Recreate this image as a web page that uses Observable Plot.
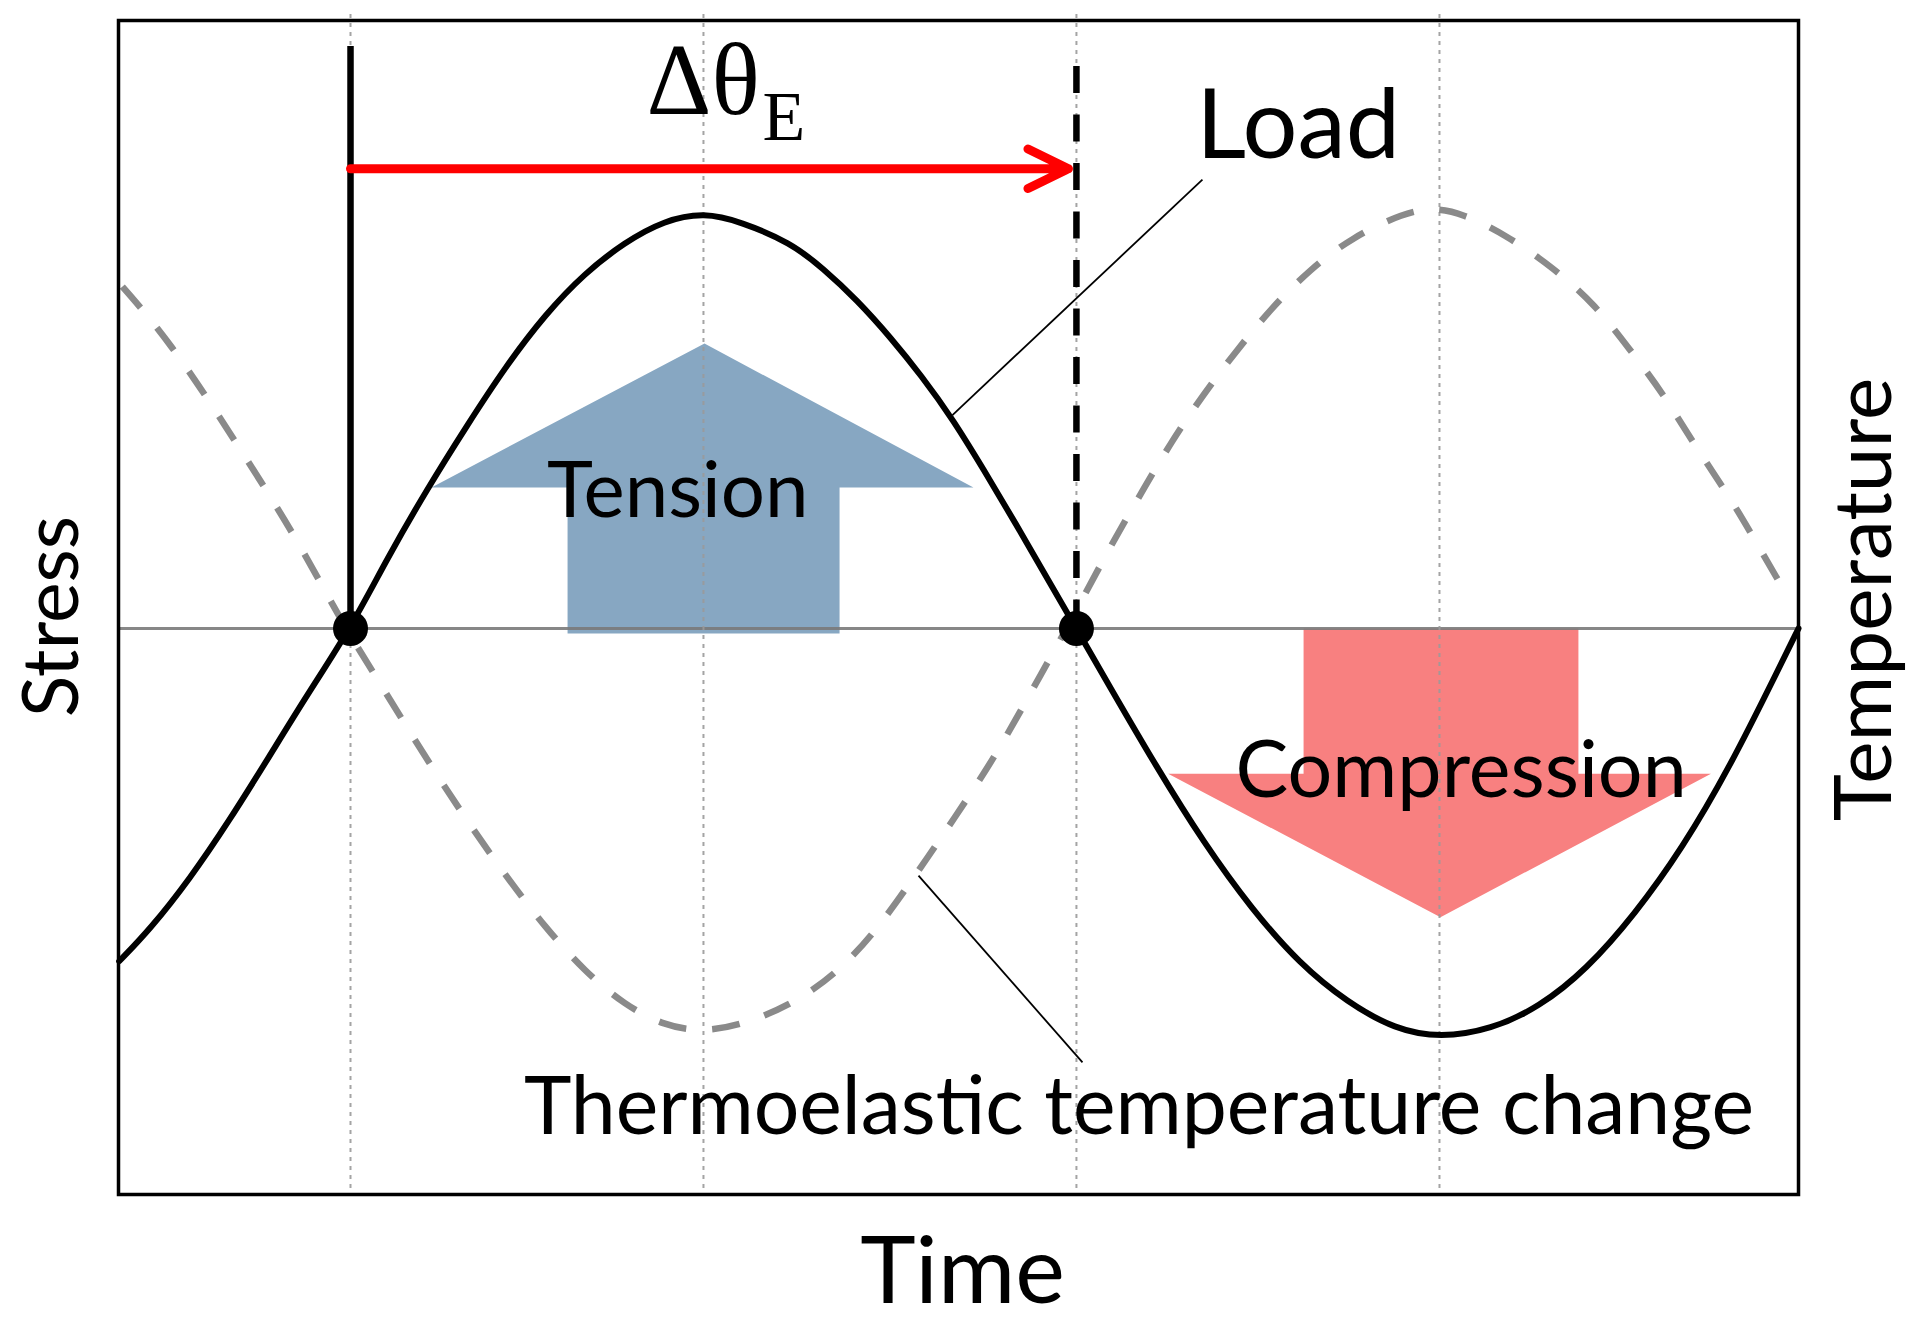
<!DOCTYPE html>
<html>
<head>
<meta charset="utf-8">
<script src="https://cdn.jsdelivr.net/npm/d3@7"></script>
<script src="https://cdn.jsdelivr.net/npm/@observablehq/plot@0.6"></script>
<style>
  html, body { margin: 0; padding: 0; background: #ffffff; }
  #chart svg { display: block; }
</style>
</head>
<body>
<div id="chart"></div>
<script>
// ---- Data (time: 0–100 across the frame; level: % of load amplitude) ----
const loadTime   = [0.04, 1.88, 4.23, 6.58, 8.94, 11.3, 13.81, 16.0, 18.35, 20.71, 23.06, 25.42, 27.77, 30.12, 32.48, 34.88, 37.02, 40.0, 41.96, 43.95, 45.95, 47.8, 49.62, 51.9, 53.87, 55.88, 57.02, 58.92, 61.77, 64.61, 67.46, 70.3, 73.15, 76.0, 78.69, 81.7, 84.54, 87.38, 90.24, 93.08, 95.93, 98.78, 100];
const loadStress = [-80.0, -72.3, -60.3, -46.3, -31.0, -15.5, 0, 16.9, 33.4, 48.6, 63.1, 75.6, 85.5, 92.8, 98.1, 100, 97.8, 92.8, 86.5, 79.0, 70.0, 60.7, 50.6, 35.5, 22.0, 7.8, 0, -13.4, -33.2, -51.6, -67.5, -80.6, -89.9, -96.4, -98.4, -96.4, -91.1, -82.0, -68.8, -52.9, -33.2, -10.0, 0];

const tempTime  = [0.23, 3.05, 6.58, 10.12, 12.23, 13.53, 16.0, 18.35, 20.71, 23.06, 25.42, 27.77, 30.12, 32.48, 34.82, 37.52, 40.49, 43.08, 45.26, 47.34, 49.23, 51.31, 52.7, 54.39, 56.43, 57.2, 59.2, 60.91, 62.62, 64.61, 66.61, 68.6, 70.88, 73.44, 76.57, 78.27, 79.99, 82.55, 85.39, 87.96, 89.95, 91.95, 93.93, 95.93, 97.64, 99.35];
const tempValue = [82.2, 69.0, 47.4, 24.9, 9.5, 0, -16.0, -31.5, -46.0, -59.5, -72.0, -82.5, -90.5, -95.5, -97.1, -94.8, -89.5, -81.7, -71.8, -59.9, -48.7, -36.2, -27.0, -14.8, 0, 5.8, 20.9, 32.8, 44.6, 56.5, 67.1, 76.9, 86.2, 94.1, 100, 101.1, 99.8, 94.7, 86.8, 77.6, 67.1, 56.5, 43.3, 31.5, 19.6, 7.7];

const zeroCrossTimes = [13.81, 57.02];               // black dots
const guideTimes     = [13.81, 34.82, 57.02, 78.63]; // dotted vertical guides
const guideTop = 147.6, frameBottom = -136.06, frameTop = 146.15;

const phaseStart = 13.81, phaseEnd = 57.02;   // ΔθE interval
const phaseMarkerTops = [139.9, 135.1];       // solid / dashed vertical markers
const deltaArrowLevel = 110.5;

const tensionTime  = [34.88, 50.89, 42.92, 42.92, 26.73, 26.73, 18.63];
const tensionLevel = [68.5, 33.9, 33.9, -1.2, -1.2, 33.9, 33.9];
const compTime  = [70.54, 86.9, 86.9, 94.79, 78.69, 62.48, 70.54];
const compLevel = [0, 0, -34.9, -34.9, -69.4, -34.9, -34.9];

const leaderFromTime = [64.52, 47.62], leaderFromLevel = [107.9, -59.4];
const leaderToTime   = [49.64, 57.38], leaderToLevel   = [51.3, -104.3];

const labelText  = ["Load", "Tension", "Compression", "Thermoelastic temperature change"];
const labelTime  = [64.15, 33.29, 79.92, 60.74];
const labelLevel = [113.0, 26.7, -40.4, -121.5];

const deltaText = ["Δθ", "E"];
const deltaTime = [31.43, 38.33];
const deltaLevel = [123.7, 117.5];

const axisTitles = ["Time", "Stress", "Temperature"];

// ---- Build tables ----
const loadData = loadTime.map((t, i) => ({t, v: loadStress[i]}));
const tempData = tempTime.map((t, i) => ({t, v: tempValue[i]}));
const tension = tensionTime.map((t, i) => ({t, v: tensionLevel[i]}));
const compression = compTime.map((t, i) => ({t, v: compLevel[i]}));
const leaders = leaderFromTime.map((t, i) => ({x1: t, y1: leaderFromLevel[i], x2: leaderToTime[i], y2: leaderToLevel[i]}));
const labels = labelText.map((s, i) => ({s, t: labelTime[i], v: labelLevel[i]}));
const markers = [
  {t: phaseStart, top: phaseMarkerTops[0]},
  {t: phaseEnd, top: phaseMarkerTops[1]}
];

const FONT = "Lato, 'Open Sans', sans-serif";
const SERIF = "'Liberation Serif', 'Times New Roman', serif";

const chart = Plot.plot({
  width: 1920,
  height: 1323,
  marginLeft: 118,
  marginRight: 122,
  marginTop: 20,
  marginBottom: 129,
  x: {domain: [0, 100], axis: null},
  y: {domain: [frameBottom, frameTop], axis: null},
  style: {background: "#ffffff", overflow: "visible"},
  marks: [
    // block arrows
    Plot.line(tension, {x: "t", y: "v", curve: "linear-closed", fill: "#87a7c2", stroke: "none"}),
    Plot.line(compression, {x: "t", y: "v", curve: "linear-closed", fill: "#f88080", stroke: "none"}),
    // zero line
    Plot.ruleY([0], {stroke: "#7a7a7a", strokeWidth: 3, strokeOpacity: 0.9}),
    // dotted guides
    Plot.ruleX(guideTimes, {y1: guideTop, y2: frameBottom, stroke: "#9a9a9a", strokeWidth: 2, strokeDasharray: "4,5", strokeOpacity: 0.9}),
    // thermoelastic temperature change (dashed gray)
    Plot.line(tempData, {x: "t", y: "v", curve: "basis", stroke: "#8a8a8a", strokeWidth: 6.5, strokeDasharray: "28,26", strokeLinecap: "butt"}),
    // load curve
    Plot.line(loadData, {x: "t", y: "v", curve: "basis", stroke: "#000", strokeWidth: 6}),
    // phase markers
    Plot.ruleX([markers[0]], {x: "t", y1: "top", y2: 0, stroke: "#000", strokeWidth: 6.5}),
    Plot.ruleX([markers[1]], {x: "t", y1: "top", y2: 0, stroke: "#000", strokeWidth: 6.5, strokeDasharray: "27,21.5"}),
    // ΔθE arrow
    Plot.arrow([{x1: phaseStart, x2: phaseEnd, y: deltaArrowLevel}], {
      x1: "x1", x2: "x2", y1: "y", y2: "y",
      stroke: "#ff0000", strokeWidth: 9, headLength: 7.5, headAngle: 52, insetEnd: 8,
      strokeLinecap: "round", strokeLinejoin: "round"
    }),
    // zero crossing dots
    Plot.dot(zeroCrossTimes, {x: d => d, y: 0, r: 17.5, fill: "#000", stroke: "none"}),
    // leader lines
    Plot.link(leaders, {x1: "x1", y1: "y1", x2: "x2", y2: "y2", stroke: "#000", strokeWidth: 1.8}),
    // labels
    Plot.text([labels[0]], {x: "t", y: "v", text: "s", textAnchor: "start", lineAnchor: "bottom", fontSize: 97, fontFamily: FONT, fill: "#000"}),
    Plot.text([labels[1]], {x: "t", y: "v", text: "s", textAnchor: "middle", lineAnchor: "bottom", fontSize: 78, fontFamily: FONT, fill: "#000"}),
    Plot.text([labels[2]], {x: "t", y: "v", text: "s", textAnchor: "middle", lineAnchor: "bottom", fontSize: 79, fontFamily: FONT, fill: "#000"}),
    Plot.text([labels[3]], {x: "t", y: "v", text: "s", textAnchor: "middle", lineAnchor: "bottom", fontSize: 80.5, fontFamily: FONT, fill: "#000"}),
    // ΔθE
    Plot.text([0], {x: () => deltaTime[0], y: () => deltaLevel[0], text: () => deltaText[0], textAnchor: "start", lineAnchor: "bottom", fontSize: 101, fontFamily: SERIF, fill: "#000"}),
    Plot.text([0], {x: () => deltaTime[1], y: () => deltaLevel[1], text: () => deltaText[1], textAnchor: "start", lineAnchor: "bottom", fontSize: 70, fontFamily: SERIF, fill: "#000"}),
    // frame
    Plot.frame({stroke: "#000", strokeWidth: 3.5}),
    // axis titles
    Plot.text([axisTitles[0]], {frameAnchor: "bottom", dx: 4, dy: 108, textAnchor: "middle", lineAnchor: "bottom", fontSize: 94, fontFamily: FONT, fill: "#000"}),
    Plot.text([axisTitles[1]], {frameAnchor: "left", dx: -41, dy: 9, rotate: -90, textAnchor: "middle", lineAnchor: "bottom", fontSize: 77, fontFamily: FONT, fill: "#000"}),
    Plot.text([axisTitles[2]], {frameAnchor: "right", dx: 92, dy: -8, rotate: -90, textAnchor: "middle", lineAnchor: "bottom", fontSize: 80, fontFamily: FONT, fill: "#000"})
  ]
});

document.getElementById("chart").appendChild(chart);
</script>
</body>
</html>
